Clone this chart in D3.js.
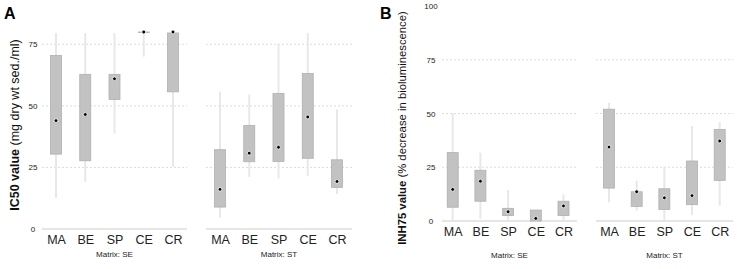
<!DOCTYPE html>
<html>
<head>
<meta charset="utf-8">
<script src="https://cdn.jsdelivr.net/npm/d3@7"></script>
<style>
  body { margin: 0; background: #fff; }
  svg { font-family: "Liberation Sans", Arial, sans-serif; }
  .grid line { stroke: #dcdcdc; stroke-dasharray: 2,2; }
  .tick text { fill: #222; }
</style>
</head>
<body>
<svg id="chart" width="737" height="269"></svg>
<script>
const categories = ['MA', 'BE', 'SP', 'CE', 'CR'];
const facets = ['SE', 'ST'];

// Panel A: IC50 (whisker low, q1, median, q3, whisker high)
const icSE_lo  = [12.6, 19.2, 38.8, 70.0, 25.3];
const icSE_q1  = [30.4, 27.7, 52.6, 79.8, 55.7];
const icSE_med = [44.0, 46.5, 61.0, 80.0, 80.0];
const icSE_q3  = [70.5, 62.8, 62.8, 80.0, 79.6];
const icSE_hi  = [79.6, 79.6, 79.6, 80.0, 80.0];

const icST_lo  = [4.7, 21.2, 20.5, 21.6, 14.2];
const icST_q1  = [8.9, 27.3, 27.4, 28.7, 16.9];
const icST_med = [16.1, 30.8, 33.2, 45.5, 19.3];
const icST_q3  = [32.2, 42.0, 55.0, 63.2, 28.1];
const icST_hi  = [55.7, 54.6, 75.3, 79.6, 48.5];

// Panel B: INH75
const inSE_lo  = [0.5, 1.0, 0.3, 0.0, 0.3];
const inSE_q1  = [6.4, 9.2, 2.5, 0.0, 2.5];
const inSE_med = [14.7, 18.5, 4.3, 1.2, 7.0];
const inSE_q3  = [31.8, 23.6, 5.9, 5.1, 9.2];
const inSE_hi  = [50.2, 31.8, 14.4, 5.1, 12.4];

const inST_lo  = [8.7, 4.8, 0.5, 2.8, 7.1];
const inST_q1  = [15.3, 6.8, 5.4, 7.6, 18.9];
const inST_med = [34.4, 13.6, 10.8, 11.8, 37.2];
const inST_q3  = [52.0, 13.6, 15.0, 27.9, 42.6];
const inST_hi  = [55.0, 18.7, 25.3, 44.3, 46.0];

const icTicks = [0, 25, 50, 75];
const inTicks = [0, 25, 50, 75, 100];

function rows(lo, q1, med, q3, hi) {
    return categories.map((c, i) => ({cat: c, lo: lo[i], q1: q1[i], med: med[i], q3: q3[i], hi: hi[i]}));
}

const svg = d3.select('#chart');
const boxW = 11;

function drawPanel(cfg) {
    const g = svg.append('g');
    const yScale = d3.scaleLinear().domain(cfg.domain).range(cfg.yRange);

    // y axis labels
    const yAxis = d3.axisLeft(yScale).tickValues(cfg.ticks).tickSize(0).tickPadding(0);
    g.append('g')
        .attr('transform', `translate(${cfg.yAxisX}, 0)`)
        .call(yAxis)
        .call(s => s.select('.domain').remove())
        .selectAll('text')
            .attr('text-anchor', 'middle')
            .attr('font-size', 8)
            .attr('dy', '0.32em');

    // y title
    const t = g.append('text')
        .attr('transform', `translate(${cfg.titleX}, ${cfg.titleY}) rotate(-90)`)
        .attr('text-anchor', 'middle')
        .attr('font-size', cfg.titleSize)
        .attr('fill', '#111');
    t.append('tspan').attr('font-weight', 'bold').text(cfg.titleBold);
    t.append('tspan').text(cfg.titleRest);

    // panel letter
    g.append('text')
        .attr('x', cfg.letterX).attr('y', 19)
        .attr('font-size', 16).attr('font-weight', 'bold')
        .text(cfg.letter);

    cfg.facets.forEach(f => {
        const xScale = d3.scalePoint().domain(categories).range(f.xRange);
        const fg = g.append('g');

        // grid
        fg.append('g').classed('grid', true)
            .selectAll('line')
            .data(cfg.ticks.filter(d => d > 0 && d < 100))
            .join('line')
                .attr('x1', f.lineRange[0]).attr('x2', f.lineRange[1])
                .attr('y1', d => yScale(d)).attr('y2', d => yScale(d));

        // baseline
        fg.append('line')
            .attr('x1', f.lineRange[0]).attr('x2', f.lineRange[1])
            .attr('y1', yScale(0)).attr('y2', yScale(0))
            .attr('stroke', '#e6e6e6').attr('stroke-width', 2);

        // x axis labels
        const xAxis = d3.axisBottom(xScale).tickSize(0).tickPadding(0);
        fg.append('g')
            .attr('transform', `translate(0, ${cfg.xLabelY})`)
            .call(xAxis)
            .call(s => s.select('.domain').remove())
            .selectAll('text')
                .attr('font-size', 12.5);

        // facet label
        fg.append('text')
            .attr('x', (f.lineRange[0] + f.lineRange[1]) / 2)
            .attr('y', cfg.facetY)
            .attr('text-anchor', 'middle')
            .attr('font-size', 8)
            .attr('fill', '#222')
            .text(`Matrix: ${f.name}`);

        const data = f.data;
        // whiskers
        fg.selectAll('.whisker')
            .data(data)
            .join('line')
                .classed('whisker', true)
                .attr('x1', d => xScale(d.cat)).attr('x2', d => xScale(d.cat))
                .attr('y1', d => yScale(d.lo)).attr('y2', d => yScale(d.hi))
                .attr('stroke', '#e8e8e8').attr('stroke-width', 2);
        // boxes
        fg.selectAll('.box')
            .data(data)
            .join('rect')
                .classed('box', true)
                .attr('x', d => xScale(d.cat) - boxW / 2)
                .attr('width', boxW)
                .attr('y', d => yScale(d.q3))
                .attr('height', d => Math.max(0.5, yScale(d.q1) - yScale(d.q3)))
                .attr('fill', '#c2c2c2')
                .attr('stroke', '#b0b0b0')
                .attr('stroke-width', 0.8);
        // medians
        fg.selectAll('.med')
            .data(data)
            .join('circle')
                .classed('med', true)
                .attr('cx', d => xScale(d.cat))
                .attr('cy', d => yScale(d.med))
                .attr('r', 1.9)
                .attr('fill', '#000')
                .attr('stroke', '#fff')
                .attr('stroke-width', 0.8);
    });
}

drawPanel({
    letter: 'A', letterX: 4,
    domain: [0, 75], yRange: [229, 44.3], ticks: icTicks,
    yAxisX: 33,
    titleX: 19, titleY: 125, titleSize: 12.5,
    titleBold: 'IC50  value', titleRest: ' (mg dry wt sed./ml)',
    xLabelY: 235, facetY: 257,
    facets: [
        {name: 'SE', xRange: [56, 173], lineRange: [42, 187],
         data: rows(icSE_lo, icSE_q1, icSE_med, icSE_q3, icSE_hi)},
        {name: 'ST', xRange: [220, 337], lineRange: [206, 352],
         data: rows(icST_lo, icST_q1, icST_med, icST_q3, icST_hi)}
    ]
});

drawPanel({
    letter: 'B', letterX: 380,
    domain: [0, 100], yRange: [221, 6], ticks: inTicks,
    yAxisX: 431,
    titleX: 406, titleY: 128, titleSize: 11.3,
    titleBold: 'INH75 value', titleRest: ' (% decrease in bioluminescence)',
    xLabelY: 227, facetY: 258,
    facets: [
        {name: 'SE', xRange: [452.7, 563.5], lineRange: [442, 577],
         data: rows(inSE_lo, inSE_q1, inSE_med, inSE_q3, inSE_hi)},
        {name: 'ST', xRange: [609, 719.7], lineRange: [596, 733],
         data: rows(inST_lo, inST_q1, inST_med, inST_q3, inST_hi)}
    ]
});
</script>
</body>
</html>
